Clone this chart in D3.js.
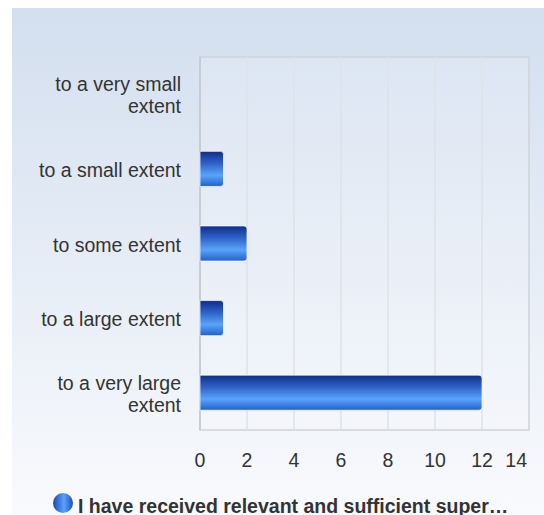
<!DOCTYPE html>
<html>
<head>
<meta charset="utf-8">
<script src="https://cdn.jsdelivr.net/npm/d3@7"></script>
<style>
  html, body { margin: 0; padding: 0; background: #fff; }
  svg { display: block; font-family: "Liberation Sans", Arial, sans-serif; }
</style>
</head>
<body>
<svg width="544" height="515"></svg>
<script>
// chart data
const categories = [
  ["to a very small", "extent"],
  ["to a small extent"],
  ["to some extent"],
  ["to a large extent"],
  ["to a very large", "extent"]
];
const values = [0, 1, 2, 1, 12];
const xTicks = [0, 2, 4, 6, 8, 10, 12, 14];
const seriesName = "I have received relevant and sufficient super\u2026";

let svg = d3.select("svg");
let defs = svg.append("defs");

// background gradient
let bg = defs.append("linearGradient").attr("id", "bg")
  .attr("x1", 0).attr("y1", 0).attr("x2", 0).attr("y2", 1);
bg.append("stop").attr("offset", "0%").attr("stop-color", "#d3dfef");
bg.append("stop").attr("offset", "100%").attr("stop-color", "#f9fafd");

// bar gradient (vertical, glossy)
let barGrad = defs.append("linearGradient").attr("id", "barGrad")
  .attr("x1", 0).attr("y1", 0).attr("x2", 0).attr("y2", 1);
barGrad.append("stop").attr("offset", "0%").attr("stop-color", "#0e2d8a");
barGrad.append("stop").attr("offset", "35%").attr("stop-color", "#2f64c8");
barGrad.append("stop").attr("offset", "68%").attr("stop-color", "#5aa3fa");
barGrad.append("stop").attr("offset", "100%").attr("stop-color", "#2261c9");

// legend marker gradient (horizontal)
let legGrad = defs.append("linearGradient").attr("id", "legGrad")
  .attr("x1", 0).attr("y1", 0).attr("x2", 1).attr("y2", 0);
legGrad.append("stop").attr("offset", "0%").attr("stop-color", "#1b46b0");
legGrad.append("stop").attr("offset", "55%").attr("stop-color", "#5aa3fa");
legGrad.append("stop").attr("offset", "100%").attr("stop-color", "#1d4fc0");

svg.append("rect")
  .attr("x", 12).attr("y", 8)
  .attr("width", 532).attr("height", 507)
  .attr("fill", "url(#bg)");

const plot = { left: 200, top: 57, right: 529, bottom: 430 };

let x = d3.scaleLinear().domain([0, 14]).range([plot.left, plot.right]);
let y = d3.scaleBand()
  .domain(d3.range(categories.length))
  .range([plot.top, plot.bottom])
  .paddingInner(0.53).paddingOuter(0.265);

// plot area
svg.append("rect")
  .attr("x", plot.left).attr("y", plot.top)
  .attr("width", plot.right - plot.left).attr("height", plot.bottom - plot.top)
  .attr("fill", "#ffffff").attr("fill-opacity", 0.15)
  .attr("stroke", "#cfd3d9").attr("stroke-width", 1.5);

// vertical gridlines
svg.append("g")
  .selectAll("line")
  .data(xTicks.slice(1, -1))
  .enter()
  .append("line")
  .attr("x1", d => x(d)).attr("x2", d => x(d))
  .attr("y1", plot.top).attr("y2", plot.bottom)
  .attr("stroke", "#dfe2e7").attr("stroke-width", 1.5);

svg.append("line")
  .attr("x1", plot.left).attr("x2", plot.left)
  .attr("y1", plot.top).attr("y2", plot.bottom)
  .attr("stroke", "#c4c8ce").attr("stroke-width", 1.5);

// bars with rounded right end
function barPath(x0, x1, y0, h, r) {
  let w = x1 - x0;
  if (w <= 0) return "";
  r = Math.min(r, w / 2);
  return `M${x0},${y0}H${x1 - r}Q${x1},${y0} ${x1},${y0 + r}V${y0 + h - r}Q${x1},${y0 + h} ${x1 - r},${y0 + h}H${x0}Z`;
}

svg.append("g")
  .selectAll("path")
  .data(values)
  .enter()
  .append("path")
  .attr("d", (d, i) => barPath(x(0), x(d), y(i), y.bandwidth(), 3))
  .attr("fill", "url(#barGrad)")
  .attr("stroke", "#ffffff").attr("stroke-opacity", 0.7).attr("stroke-width", 1);

// category labels
let catLabels = svg.append("g")
  .selectAll("text")
  .data(categories)
  .enter()
  .append("text")
  .attr("text-anchor", "end")
  .attr("font-size", 19.5)
  .attr("fill", "#333333");

catLabels.each(function(lines, i) {
  let cy = y(i) + y.bandwidth() / 2;
  let startY = cy + 8 - (lines.length - 1) * 11;
  d3.select(this).selectAll("tspan")
    .data(lines)
    .enter()
    .append("tspan")
    .attr("x", 181)
    .attr("y", (l, j) => startY + j * 22)
    .text(l => l);
});

// x tick labels
svg.append("g")
  .selectAll("text")
  .data(xTicks)
  .enter()
  .append("text")
  .attr("x", (d, i) => i === xTicks.length - 1 ? plot.right - 2 : x(d))
  .attr("y", 467)
  .attr("text-anchor", (d, i) => i === xTicks.length - 1 ? "end" : "middle")
  .attr("font-size", 19.5)
  .attr("fill", "#333333")
  .text(d => d);

// legend
svg.append("circle")
  .attr("cx", 63).attr("cy", 503).attr("r", 10)
  .attr("fill", "url(#legGrad)");

svg.append("text")
  .attr("x", 78).attr("y", 512.5)
  .attr("font-size", 19.5)
  .attr("font-weight", "bold")
  .attr("fill", "#333333")
  .text(seriesName);
</script>
</body>
</html>
